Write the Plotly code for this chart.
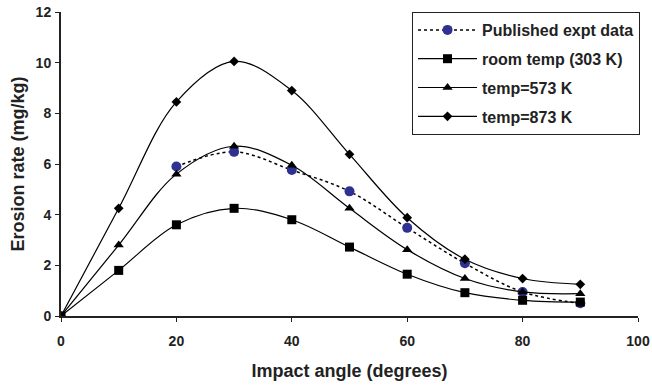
import plotly.graph_objects as go

angles = [0, 10, 20, 30, 40, 50, 60, 70, 80, 90]
room_temp = [0, 1.8, 3.6, 4.25, 3.8, 2.72, 1.65, 0.92, 0.62, 0.55]
temp_573 = [0, 2.8, 5.6, 6.7, 5.95, 4.25, 2.62, 1.48, 0.95, 0.88]
temp_873 = [0, 4.25, 8.45, 10.05, 8.9, 6.38, 3.88, 2.24, 1.48, 1.25]
pub_angles = [20, 30, 40, 50, 60, 70, 80, 90]
pub_data = [5.9, 6.48, 5.76, 4.92, 3.48, 2.08, 0.95, 0.5]

FONT = "Liberation Sans, Arial, sans-serif"

fig = go.Figure()
fig.add_trace(go.Scatter(
    x=pub_angles, y=pub_data, name="Published expt data", legendgroup="a",
    mode="lines+markers", line=dict(color="black", width=1.5, dash="dot", shape="spline"),
    marker=dict(symbol="circle", size=10, color="#2E3192")))
fig.add_trace(go.Scatter(
    x=angles, y=room_temp, name="room temp (303 K)", legendgroup="b",
    mode="lines+markers", line=dict(color="black", width=1.2, shape="spline"),
    marker=dict(symbol="square", size=9, color="black")))
fig.add_trace(go.Scatter(
    x=angles, y=temp_573, name="temp=573 K", legendgroup="c",
    mode="lines+markers", line=dict(color="black", width=1.2, shape="spline"),
    marker=dict(symbol="triangle-up", size=9, color="black")))
fig.add_trace(go.Scatter(
    x=angles, y=temp_873, name="temp=873 K", legendgroup="d",
    mode="lines+markers", line=dict(color="black", width=1.2, shape="spline"),
    marker=dict(symbol="diamond", size=7.5, color="black")))

fig.update_layout(
    width=652, height=386,
    margin=dict(l=61, r=12, t=12, b=70),
    paper_bgcolor="white", plot_bgcolor="white",
    font=dict(family=FONT, size=14, color="#222222", weight="bold"),
    showlegend=True,
    legend=dict(
        x=1.0035, y=1.0, xanchor="right", yanchor="top",
        xref="paper", yref="paper",
        bgcolor="white", bordercolor="#222222", borderwidth=1,
        font=dict(family=FONT, size=16, color="#222222", weight="bold"),
        itemwidth=59, tracegroupgap=5,
    ),
    xaxis=dict(
        range=[0, 100], tickvals=[0, 20, 40, 60, 80, 100], automargin=False,
        showgrid=False, zeroline=False, showline=True, linecolor="#222222", linewidth=2,
        ticks="outside", ticklen=4, tickcolor="#222222", tickwidth=1,
        ticklabelstandoff=7,
        tickfont=dict(family=FONT, size=14, weight="bold"),
        title=dict(text="Impact angle (degrees)", font=dict(family=FONT, size=18, weight="bold"), standoff=17),
    ),
    yaxis=dict(
        range=[0, 12], tickvals=[0, 2, 4, 6, 8, 10, 12], automargin=False,
        showgrid=False, zeroline=False, showline=True, linecolor="#222222", linewidth=2,
        ticks="outside", ticklen=4, tickcolor="#222222", tickwidth=1,
        ticklabelstandoff=1,
        tickfont=dict(family=FONT, size=14, weight="bold"),
        title=dict(text="Erosion rate (mg/kg)", font=dict(family=FONT, size=18, weight="bold"), standoff=6),
    ),
)

fig.write_html("out.html", config={"displayModeBar": False},
               post_script="document.body.style.margin='0';")
